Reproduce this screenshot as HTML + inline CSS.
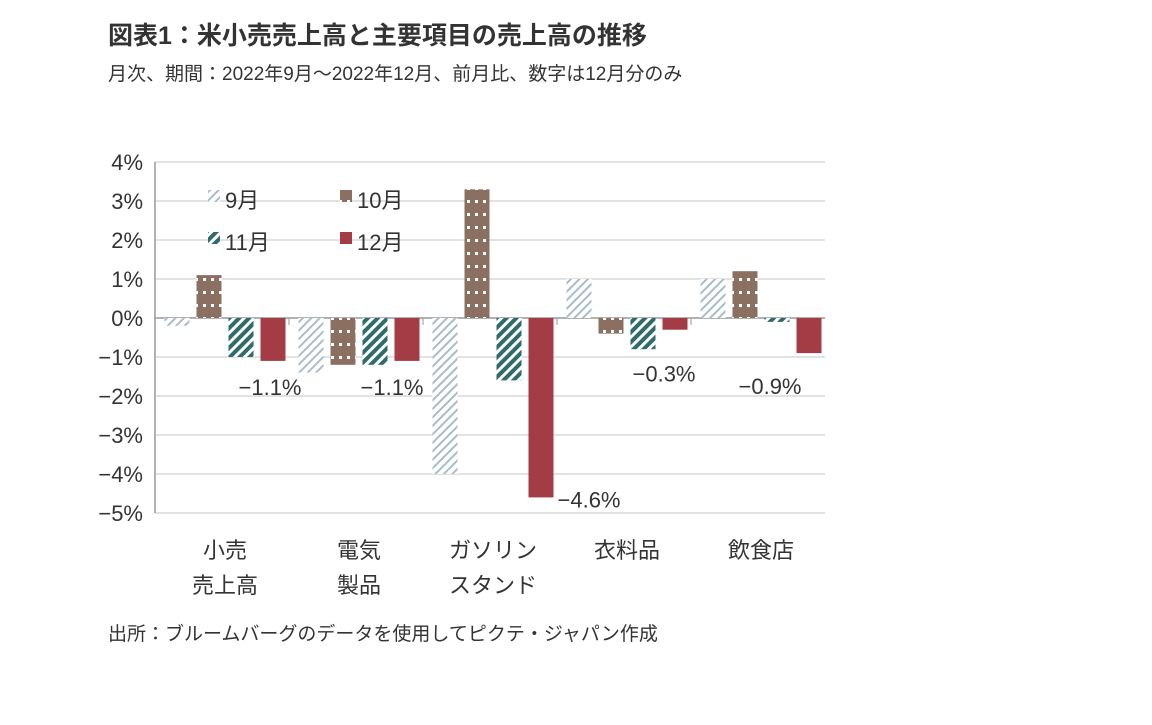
<!DOCTYPE html>
<html><head><meta charset="utf-8"><style>
body{margin:0;background:#fff;width:1152px;height:720px;overflow:hidden;font-family:"Liberation Sans","Noto Sans CJK JP",sans-serif;}
</style></head><body>
<svg id="c" width="1152" height="720" xmlns="http://www.w3.org/2000/svg">
<defs>
<pattern id="p9" patternUnits="userSpaceOnUse" width="6" height="6" patternTransform="rotate(45)"><rect width="6" height="6" fill="#fff"/><rect width="2" height="6" fill="#a9bccb"/></pattern>
<pattern id="p10" patternUnits="userSpaceOnUse" width="8" height="13"><rect width="8" height="13" fill="#8b7062"/><rect x="3" y="5" width="3" height="3" fill="#fff"/></pattern>
<pattern id="p11" patternUnits="userSpaceOnUse" width="7" height="7" patternTransform="rotate(45)"><rect width="7" height="7" fill="#fff"/><rect width="4" height="7" fill="#2f6b6c"/></pattern>
</defs>
<text x="108" y="44" font-size="25" font-weight="bold" fill="#333">図表1：米小売売上高と主要項目の売上高の推移</text>
<text x="108" y="80" font-size="19" fill="#333">月次、期間：2022年9月～2022年12月、前月比、数字は12月分のみ</text>
<text x="108" y="640" font-size="19" fill="#333">出所：ブルームバーグのデータを使用してピクテ・ジャパン作成</text>
<g id="plot"></g>
</svg>
<script>
const categories=[["小売","売上高"],["電気","製品"],["ガソリン","スタンド"],["衣料品"],["飲食店"]];
const sep=[-0.2,-1.4,-4.0,1.0,1.0];
const oct=[1.1,-1.2,3.3,-0.4,1.2];
const nov=[-1.0,-1.2,-1.6,-0.8,-0.1];
const dec=[-1.1,-1.1,-4.6,-0.3,-0.9];
const decLabels=["−1.1%","−1.1%","−4.6%","−0.3%","−0.9%"];
const ticks=[4,3,2,1,0,-1,-2,-3,-4,-5];
const tickLabels=["4%","3%","2%","1%","0%","−1%","−2%","−3%","−4%","−5%"];
const seriesNames=["9月","10月","11月","12月"];
const NS="http://www.w3.org/2000/svg",g=document.getElementById("plot");
const X0=155,X1=825,Y4=162,PPU=39;
const y=v=>Y4+(4-v)*PPU;
const cw=(X1-X0)/categories.length;
const labDx=[-22,-34,29,-30,-58],labDy=[34,34,10,52,41];
function mk(t,a){const e=document.createElementNS(NS,t);for(const k in a)e.setAttribute(k,a[k]);g.appendChild(e);return e;}
ticks.forEach((t,i)=>{
 const gl=mk("line",{x1:X0,x2:X1,y1:y(t),y2:y(t),stroke:t===0?"#999":"#d9d9d9","stroke-width":1.5});
 
 
 const tl=mk("text",{x:X0-12,y:y(t)+8,"font-size":22,"text-anchor":"end",fill:"#333"});tl.textContent=tickLabels[i];
 
 
});
const ax=mk("line",{x1:X0,x2:X0,y1:y(4),y2:y(-5),stroke:"#999","stroke-width":1.5});


const series=[sep,oct,nov,dec],fills=["url(#p9)","url(#p10)","url(#p11)","#a33c45"];
const bw=25,gap=7;
categories.forEach((c,i)=>{
 const gx=X0+i*cw+(cw-(4*bw+3*gap))/2+3;
 if(i>0){const tk=mk("line",{x1:X0+i*cw,x2:X0+i*cw,y1:y(0),y2:y(0)+7,stroke:"#999"});}
 series.forEach((s,j)=>{
  const v=s[i],x=gx+j*(bw+gap);
  const r=mk("rect",{x:x,y:Math.min(y(v),y(0)),width:bw,height:Math.abs(y(v)-y(0)),fill:fills[j]});
  
  
  if(j===3){
   const lb=mk("text",{x:x+labDx[i],y:y(v)+labDy[i],"font-size":22,fill:"#333"});
   lb.textContent=decLabels[i];
   
   
  }
 });
 c.forEach((ln,k)=>{
  const t=mk("text",{x:X0+i*cw+cw/2+3,y:558+k*35,"font-size":22,"text-anchor":"middle",fill:"#333"});
  t.textContent=ln;
  
  
 });
});
const lpos=[[208,200],[340,200],[208,242],[340,242]];
seriesNames.forEach((n,j)=>{
 const r=mk("rect",{x:lpos[j][0],y:lpos[j][1]-10,width:12,height:12,fill:fills[j]});
 
 
 const t=mk("text",{x:lpos[j][0]+17,y:lpos[j][1]+8,"font-size":22,fill:"#333"});
 t.textContent=n;
 
 
});
</script>
</body></html>
